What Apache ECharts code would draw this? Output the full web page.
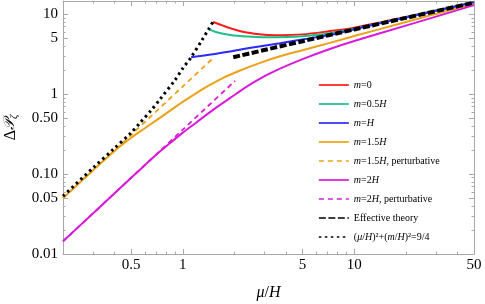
<!DOCTYPE html>
<html><head><meta charset="utf-8">
<script src="https://cdn.jsdelivr.net/npm/echarts@6/dist/echarts.min.js"></script>
<style>html,body{margin:0;padding:0;background:#fff}#c{width:485px;height:304px}</style>
</head><body><div id="c"></div>
<script>
// ---- data (mu/H, Delta P) ----
const muRed   = [1.5, 1.6, 1.69, 1.89, 2.36, 3.0, 3.7, 5, 7, 10, 20, 50];
const dpRed   = [8.0, 7.6, 7.3, 6.7, 5.9, 5.55, 5.48, 5.6, 6.1, 6.8, 9.25, 14.15];
const muGreen = [1.414, 1.5, 1.58, 1.89, 2.4, 2.95, 4, 5, 7, 10, 20, 50];
const dpGreen = [6.5, 6.2, 5.95, 5.5, 5.25, 5.15, 5.18, 5.32, 5.75, 6.6, 9.15, 14.1];
const muBlue  = [1.118, 1.5, 1.886, 2.5, 3.69, 5, 7.21, 10, 20, 50];
const dpBlue  = [2.9, 3.15, 3.41, 3.8, 4.34, 4.85, 5.5, 6.5, 9.08, 14.05];
const muOrange = [0.2, 0.3, 0.4, 0.5, 0.6, 0.7, 0.8, 1.0, 1.2, 1.38, 1.7, 2.16, 2.8, 3.69, 5, 7.21, 10, 18.4, 30, 50];
const dpOrange = [0.05, 0.112, 0.195, 0.285, 0.375, 0.47, 0.575, 0.80, 1.03, 1.24, 1.58, 1.98, 2.45, 2.98, 3.55, 4.38, 5.35, 7.6, 10.1, 13.4];
const muOrangePert = [0.2, 0.5, 1.0, 1.475];
const dpOrangePert = [0.05, 0.31, 1.25, 2.72];
const muMagenta = [0.2, 0.3, 0.4, 0.5, 0.6, 0.7, 0.85, 1.0, 1.2, 1.5, 1.9, 2.36, 3.0, 3.69, 5, 7.21, 10, 20, 30, 50];
const dpMagenta = [0.0144, 0.0324, 0.0576, 0.09, 0.129, 0.175, 0.248, 0.33, 0.443, 0.637, 0.904, 1.245, 1.68, 2.09, 2.75, 3.68, 4.63, 7.21, 9.35, 13.0];
const muMagentaPert = [0.2, 0.5, 1.0, 2.02];
const dpMagentaPert = [0.0144, 0.09, 0.36, 1.47];
const muEff = [1.97, 5, 10, 20, 50];
const dpEff = [2.9, 4.6, 6.45, 9.0, 14.0];
const muBound = [0.2, 0.3, 0.394, 0.5, 0.564, 0.65, 0.738, 0.9, 1.0, 1.118, 1.29, 1.414, 1.5];
const dpBound = [0.053, 0.12, 0.205, 0.33, 0.44, 0.62, 0.87, 1.5, 2.1, 2.9, 4.7, 6.5, 8.0];

const xTickValues = [0.5, 1, 5, 10, 50];
const xTickLabels = ['0.5', '1', '5', '10', '50'];
const xMinorValues = [0.2, 0.3, 0.4, 0.6, 0.7, 0.8, 0.9, 2, 3, 4, 6, 7, 8, 9, 20, 30, 40];
const yTickValues = [0.01, 0.05, 0.1, 0.5, 1, 5, 10];
const yTickLabels = ['0.01', '0.05', '0.10', '0.50', '1', '5', '10'];
const yMinorValues = [0.02, 0.03, 0.04, 0.06, 0.07, 0.08, 0.09, 0.2, 0.3, 0.4, 0.6, 0.7, 0.8, 0.9, 2, 3, 4, 6, 7, 8, 9];
const xRange = [0.2, 50];
const yRange = [0.01, 14.65];

const seriesNames = ['m0', 'm05', 'm1', 'm15', 'm15p', 'm2', 'm2p', 'eff', 'bound'];
const legendTexts = {
  m0: '{i|m}=0',
  m05: '{i|m}=0.5{i|H}',
  m1: '{i|m}={i|H}',
  m15: '{i|m}=1.5{i|H}',
  m15p: '{i|m}=1.5{i|H}, perturbative',
  m2: '{i|m}=2{i|H}',
  m2p: '{i|m}=2{i|H}, perturbative',
  eff: 'Effective theory',
  bound: '({i|μ}/{i|H})²+({i|m}/{i|H})²=9/4'
};

// ---- chart ----
const L = v => Math.log10(v);
const pts = (xs, ys) => xs.map((x, i) => [L(x), L(ys[i])]);
const GRAY = '#a8a8a8';
const SERIF = 'Liberation Serif';
const fmtFrom = (vals, labels) => v => {
  const k = vals.findIndex(t => Math.abs(L(t) - v) < 1e-6);
  return k >= 0 ? labels[k] : '';
};

function xAx(grid, pos, major) {
  return {
    gridIndex: grid, type: 'value', position: pos, min: L(xRange[0]), max: L(xRange[1]),
    axisLine: { show: major, onZero: false, lineStyle: { color: GRAY, width: 1 } },
    axisTick: { show: true, inside: true, length: major ? 5 : 2.5,
      customValues: (major ? xTickValues : xMinorValues).map(L), lineStyle: { color: GRAY } },
    axisLabel: (major && pos === 'bottom') ? {
      show: true, customValues: xTickValues.map(L), formatter: fmtFrom(xTickValues, xTickLabels),
      color: '#000', fontFamily: SERIF, fontSize: 15, margin: 4 } : { show: false },
    splitLine: { show: false }
  };
}
function yAx(grid, pos, major) {
  return {
    gridIndex: grid, type: 'value', position: pos, min: L(yRange[0]), max: L(yRange[1]),
    axisLine: { show: major, onZero: false, lineStyle: { color: GRAY, width: 1 } },
    axisTick: { show: true, inside: true, length: major ? 5 : 2.5,
      customValues: (major ? yTickValues : yMinorValues).map(L), lineStyle: { color: GRAY } },
    axisLabel: (major && pos === 'left') ? {
      show: true, customValues: yTickValues.map(L), formatter: fmtFrom(yTickValues, yTickLabels),
      color: '#000', fontFamily: SERIF, fontSize: 15, margin: 5 } : { show: false },
    splitLine: { show: false }
  };
}

const xAxes = [xAx(0, 'bottom', true), xAx(0, 'top', true), xAx(1, 'bottom', false), xAx(1, 'top', false)];
const yAxes = [yAx(0, 'left', true), yAx(0, 'right', true), yAx(1, 'left', false), yAx(1, 'right', false)];
Object.assign(xAxes[0], {
  name: '{i|μ}/{i|H}', nameLocation: 'middle', nameGap: 31,
  nameTextStyle: { fontFamily: SERIF, fontSize: 16, color: '#000',
    rich: { i: { fontFamily: SERIF, fontSize: 16, fontStyle: 'italic', color: '#000' } } }
});
Object.assign(yAxes[0], {
  name: '{d|Δ}{p|𝒫}{s|ζ}', nameLocation: 'middle', nameGap: 43, nameRotate: 90,
  nameTextStyle: { fontFamily: SERIF, fontSize: 16, color: '#000',
    rich: {
      d: { fontFamily: SERIF, fontSize: 16, color: '#000' },
      p: { fontFamily: 'DejaVu Serif', fontSize: 15, fontStyle: 'italic', color: '#000' },
      s: { fontFamily: SERIF, fontSize: 11, fontStyle: 'italic', color: '#000', padding: [8, 0, 0, 0] }
    } }
});

function line(name, xs, ys, color, width, dash, z) {
  return {
    name, type: 'line', xAxisIndex: 0, yAxisIndex: 0, data: pts(xs, ys),
    symbol: 'none', showSymbol: false, smooth: 0.3, z: z || 2,
    lineStyle: { color, width, type: dash || 'solid', cap: 'butt' },
    itemStyle: { color }, animation: false
  };
}

const series = [
  line('m0', muRed, dpRed, '#ff1a1a', 2),
  line('m05', muGreen, dpGreen, '#1dbf86', 2),
  line('m1', muBlue, dpBlue, '#2a2aff', 2),
  line('m15', muOrange, dpOrange, '#eba21a', 2),
  line('m15p', muOrangePert, dpOrangePert, '#eba21a', 1.8, [5, 4]),
  line('m2', muMagenta, dpMagenta, '#d81bd8', 2),
  line('m2p', muMagentaPert, dpMagentaPert, '#d81bd8', 1.8, [5, 4]),
  line('eff', muEff, dpEff, '#000000', 4, [7, 2.5], 4),
  line('bound', muBound, dpBound, '#000000', 3, [2.5, 3.5], 3)
];

const gridBox = { left: 63, right: 11, top: 1, bottom: 50, containLabel: false, outerBoundsMode: 'none' };
const chart = echarts.init(document.getElementById('c'), null, { renderer: 'canvas' });
chart.setOption({
  animation: false,
  backgroundColor: '#ffffff',
  grid: [Object.assign({}, gridBox), Object.assign({}, gridBox)],
  xAxis: xAxes,
  yAxis: yAxes,
  legend: {
    orient: 'vertical', left: 318, top: 79, padding: 0,
    itemWidth: 30, itemHeight: 12, itemGap: 7,
    data: seriesNames,
    itemStyle: { opacity: 0 },
    lineStyle: { width: 1.7 },
    formatter: n => legendTexts[n],
    textStyle: { fontFamily: SERIF, fontSize: 10, color: '#000', lineHeight: 12,
      rich: { i: { fontFamily: SERIF, fontSize: 10, fontStyle: 'italic', color: '#000', lineHeight: 12 } } }
  },
  series
});
</script></body></html>
